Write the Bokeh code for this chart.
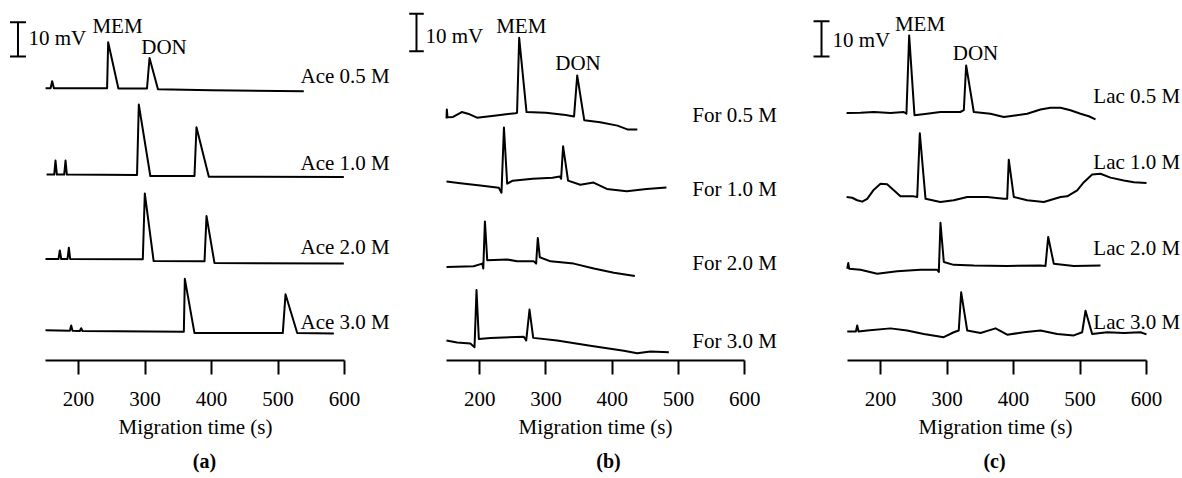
from bokeh.plotting import figure
from bokeh.layouts import row
from bokeh.models import Range1d, FixedTicker, Title
from bokeh.embed import file_html
from bokeh.resources import INLINE
from bokeh.core.properties import value

FONT = "Liberation Serif"

# ---------------- data ----------------
x_ticks = [200, 300, 400, 500, 600]
x_title = "Migration time (s)"
scale_text = "10 mV"
scale_mv = 10
peak_names = ["MEM", "DON"]
panel_tags = ["(a)", "(b)", "(c)"]

# Panel (a): signals in mV relative to each trace's own baseline
ace_labels = ["Ace 0.5 M", "Ace 1.0 M", "Ace 2.0 M", "Ace 3.0 M"]
ace05_t = [150.5, 158, 160.4, 163, 243, 244.6, 260, 303, 306.8, 319.5, 400, 538.8]
ace05_mv = [0, 0, 2.0, 0, 0, 13.4, -0.1, -0.1, 8.8, -0.3, -0.6, -0.9]
ace10_t = [152, 163.5, 165.4, 167.5, 178.5, 180.5, 182.5, 288, 290.7, 308, 374.4, 377.4, 396, 599]
ace10_mv = [0, 0, 4.1, 0, 0, 4.1, 0, -0.1, 20.4, -0.4, -0.4, 13.8, -0.6, -0.7]
ace20_t = [150.4, 170, 171.9, 174, 183.5, 185.5, 187.5, 296.7, 299.7, 313, 389.5, 392.5, 404.5, 599]
ace20_mv = [0, 0, 2.5, 0, 0, 3.3, 0, -0.1, 19.1, -0.6, -0.7, 12.5, -1.2, -1.3]
ace30_t = [150.4, 187, 189, 191, 202, 204, 206, 358.4, 359.9, 374.4, 507.2, 511.3, 528.9, 584]
ace30_mv = [0.1, 0, 1.5, 0, -0.1, 0.7, -0.1, -0.3, 15.1, -0.7, -0.7, 10.6, -0.7, -0.8]

# Panel (b)
for_labels = ["For 0.5 M", "For 1.0 M", "For 2.0 M", "For 3.0 M"]
for05_t = [150, 150.5, 151.5, 160, 173, 185, 196, 225, 254, 256.5, 259.7, 270.8, 300, 330,
           342.5, 347.3, 358, 382, 408, 423, 438]
for05_mv = [-0.8, 1.6, -0.5, -0.4, 0.9, 0.3, -0.6, 0, 0.6, 0.7, 20.6, 0.9, 0.7, 0.1,
            -0.3, 10.6, -1.3, -1.8, -2.7, -3.7, -3.7]
for10_t = [150, 171, 201, 229, 233, 236.7, 241.6, 250, 280, 310, 321, 323, 326, 333.5,
           352, 372, 392, 422, 452, 482]
for10_mv = [0.6, 0.1, -0.5, -1.1, -2.4, 14.9, 0, 0.8, 1.3, 1.6, 1.9, 1.3, 9.9, 0.8,
            -0.3, 0.3, -1.4, -2.0, -1.4, -1.0]
for20_t = [150, 191, 204, 205.5, 208, 211.5, 241.6, 256.7, 281.8, 285.3, 287.8, 290.8,
           307, 342, 372.4, 402.6, 434.3]
for20_mv = [-0.7, -0.5, 0.2, -1.1, 11.4, 1.1, 1.3, 0.8, 0.8, 0.2, 7.0, 1.9,
            0.8, 0.2, -1.1, -2.2, -3.1]
for30_t = [150, 166, 186, 192.3, 195.3, 198.8, 216.4, 266.7, 270.3, 275.3, 280.9, 317,
           367, 417.7, 437.8, 457.9, 485.6]
for30_mv = [0.3, -0.2, -0.5, -1.5, 13.7, 0.7, 1.0, 1.3, 0.3, 8.5, 1.0, 0.3,
            -1.1, -2.4, -3.1, -2.6, -2.8]

# Panel (c)
lac_labels = ["Lac 0.5 M", "Lac 1.0 M", "Lac 2.0 M", "Lac 3.0 M"]
lac05_t = [149, 170, 190, 215, 235, 239, 243.1, 251.1, 270, 290, 320, 325.3, 328.8, 340.3,
           365.4, 385.4, 405, 420.6, 440.6, 455.6, 470.7, 485.7, 500.8, 513.3, 523.3]
lac05_mv = [-0.2, -0.1, 0.1, -0.2, 0.1, -0.4, 21.8, -0.8, -0.4, 0.1, 0.1, 0.6, 13.3, 0.1,
            -0.4, -1.3, -0.8, -0.4, 0.8, 1.3, 1.3, 0.6, -0.4, -1.1, -2.0]
lac10_t = [149, 157.4, 165, 172.5, 180, 190, 200, 210, 220, 230, 250, 255.2, 259.1, 267.7,
           290, 310.2, 330.4, 360.4, 385.4, 390.5, 392.9, 400.5, 420.6, 445.6, 470.7,
           480.7, 495.8, 505.8, 518.3, 530.8, 545.9, 565.9, 581, 600]
lac10_mv = [0.1, -0.1, -0.8, -1.2, -0.4, 2.2, 3.9, 3.7, 2.0, 0.3, 0.3, 0.1, 18.2, -0.4,
            -1.3, -0.8, 0.1, 0.1, -0.4, -0.4, 10.7, 0.1, -0.8, -1.3, 0.1,
            0.3, 2.0, 4.3, 6.5, 6.7, 5.6, 4.8, 4.3, 4.1]
lac20_t = [150, 151.5, 153, 170, 195, 225, 260, 285.3, 287.7, 290.2, 295.2, 310, 340.3,
           390.5, 440.6, 448.1, 452.2, 460.6, 490.7, 530.8]
lac20_mv = [-0.1, 1.5, -0.1, -0.4, -1.5, -0.8, -0.4, -0.4, -1.0, 12.9, 1.8, 1.0, 0.8,
            0.7, 0.8, 0.7, 8.9, 1.3, 0.7, 0.8]
lac30_t = [150, 163, 165, 167, 180, 215, 240, 265.1, 295.2, 310.2, 317.7, 321.3, 330.4,
           350.4, 373, 390.5, 415.5, 440.6, 465.7, 490.7, 503.3, 508.3, 518.3, 540.9,
           565.9, 591, 600]
lac30_mv = [0, 0, 1.7, 0, 0.3, 0.9, 0.3, -0.7, -1.6, -0.2, 0.3, 11.1, 0.3,
            -0.4, 0.9, -0.9, -0.2, 0.3, -0.7, -1.1, -0.2, 5.9, -0.7, -0.2,
            -0.4, -0.2, -0.8]

# ---------------- layout (positions only) ----------------
FIG_H = 478
TOP = 8
FRAME_H = 352
FS = "21px"

panels = [
    dict(width=408, axis_left=44.75, px_per_s=0.665, px_per_mv=3.43, title_offset=118,
         traces=[(ace05_t, ace05_mv), (ace10_t, ace10_mv), (ace20_t, ace20_mv), (ace30_t, ace30_mv)],
         labels=ace_labels, offsets=[79.4, 54.2, 29.6, 8.7],
         label_x=533.8, label_y=[82.8, 57.6, 33.2, 11.1],
         bar_x=109, bar_y=88.6, bar_half=12, bar_text=(124.8, 94.0),
         peak_xy=[(258.6, 97.4), (328.6, 91.5)]),
    dict(width=400, axis_left=38.0, px_per_s=0.6625, px_per_mv=3.77, title_offset=110,
         traces=[(for05_t, for05_mv), (for10_t, for10_mv), (for20_t, for20_mv), (for30_t, for30_mv)],
         labels=for_labels, offsets=[65.0, 46.9, 25.5, 5.0],
         label_x=520.9, label_y=[65.0, 45.5, 25.9, 5.3],
         bar_x=104.7, bar_y=82.0, bar_half=11, bar_text=(118.3, 86.2),
         peak_xy=[(262.8, 88.6), (348.5, 79.0)]),
    dict(width=372, axis_left=38.75, px_per_s=0.665, px_per_mv=3.53, title_offset=110,
         traces=[(lac05_t, lac05_mv), (lac10_t, lac10_mv), (lac20_t, lac20_mv), (lac30_t, lac30_mv)],
         labels=lac_labels, offsets=[70.3, 46.2, 26.1, 8.2],
         label_x=520.0, label_y=[74.8, 56.1, 32.0, 10.8],
         bar_x=111.3, bar_y=86.1, bar_half=12, bar_text=(127.8, 90.9),
         peak_xy=[(259.4, 95.2), (342.9, 87.0)]),
]


def make_panel(cfg, tag):
    W = cfg["width"]
    pps = cfg["px_per_s"]
    x0 = 150 - cfg["axis_left"] / pps
    x1 = x0 + W / pps
    y1 = FRAME_H / cfg["px_per_mv"]
    p = figure(width=W, height=FIG_H, x_range=Range1d(x0, x1), y_range=Range1d(0, y1),
               output_backend="svg", toolbar_location=None, y_axis_location=None,
               min_border_left=0, min_border_right=0, min_border_top=TOP,
               min_border_bottom=FIG_H - FRAME_H - TOP)
    p.outline_line_color = None
    p.xgrid.visible = False
    p.ygrid.visible = False
    p.background_fill_color = "white"
    p.border_fill_color = "white"

    ax = p.xaxis[0]
    ax.bounds = (150, 600)
    ax.ticker = FixedTicker(ticks=x_ticks)
    ax.minor_tick_line_color = None
    ax.major_tick_in = 0
    ax.major_tick_out = 14
    ax.major_tick_line_width = 2
    ax.axis_line_width = 2
    ax.major_tick_line_color = "black"
    ax.axis_line_color = "black"
    ax.major_label_text_font = FONT
    ax.major_label_text_font_size = FS
    ax.major_label_text_color = "black"
    ax.major_label_standoff = 17

    # axis title, centred under the 150-600 axis span
    p.add_layout(Title(text=x_title, align="left", offset=cfg["title_offset"],
                       text_font=FONT, text_font_size=FS, text_font_style="normal",
                       text_color="black", standoff=8), "below")
    # panel tag
    p.add_layout(Title(text=tag, align="center", text_font=FONT, text_font_size="20px",
                       text_font_style="bold", text_color="black", standoff=10), "below")

    for (t, mv), off in zip(cfg["traces"], cfg["offsets"]):
        p.line(t, [off + v for v in mv], line_width=2, color="black", line_join="round")

    p.text(x=[cfg["label_x"]] * len(cfg["labels"]), y=cfg["label_y"], text=cfg["labels"],
           text_font=value(FONT), text_font_size=FS, text_align="left",
           text_baseline="middle", text_color="black")

    bx, by, bh = cfg["bar_x"], cfg["bar_y"], cfg["bar_half"]
    p.segment(x0=[bx, bx - bh, bx - bh], y0=[by, by, by + scale_mv],
              x1=[bx, bx + bh, bx + bh], y1=[by + scale_mv, by, by + scale_mv],
              line_width=2, color="black")
    p.text(x=[cfg["bar_text"][0]], y=[cfg["bar_text"][1]], text=[scale_text],
           text_font=value(FONT), text_font_size=FS, text_align="left",
           text_baseline="middle", text_color="black")

    p.text(x=[xy[0] for xy in cfg["peak_xy"]], y=[xy[1] for xy in cfg["peak_xy"]],
           text=peak_names, text_font=value(FONT), text_font_size=FS,
           text_align="center", text_baseline="middle", text_color="black")
    return p


figs = [make_panel(cfg, tag) for cfg, tag in zip(panels, panel_tags)]
layout = row(*figs, spacing=0)

open("out.html", "w").write(file_html(layout, INLINE))
